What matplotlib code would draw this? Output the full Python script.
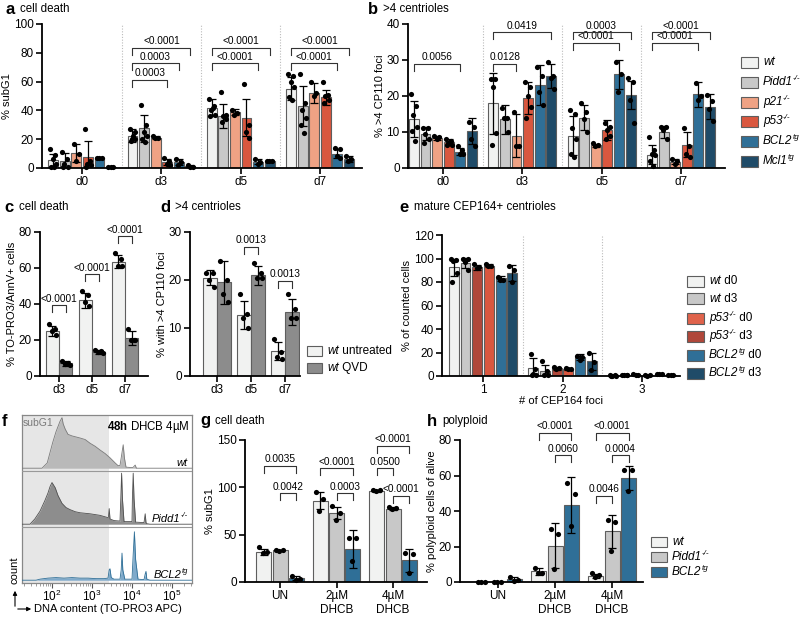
import numpy as np
import matplotlib
matplotlib.use('Agg')
import matplotlib.pyplot as plt
from matplotlib.patches import Rectangle, FancyArrowPatch
from matplotlib.ticker import LogLocator, NullFormatter

plt.rcParams['font.family'] = ['Liberation Sans', 'DejaVu Sans']
plt.rcParams['mathtext.fontset'] = 'custom'
plt.rcParams['mathtext.rm'] = 'Liberation Sans'
plt.rcParams['mathtext.it'] = 'Liberation Sans:italic'
plt.rcParams['mathtext.bf'] = 'Liberation Sans:bold'

# ---------------- DATA ----------------
# Panel a: % subG1 ; series = wt, Pidd1, p21, p53, BCL2, Mcl1 ; groups d0, d3, d5, d7
DAYS = ['d0', 'd3', 'd5', 'd7']
A_MEAN = [[5.8, 22.5, 42, 55], [5, 27.5, 36, 43], [10.5, 21, 39, 52],
          [7.6, 4, 35, 49], [7, 4, 4.5, 10], [0.5, 1.5, 5, 6]]
A_SD = [[4.2, 4.5, 6, 8], [5.4, 9.5, 8.5, 14], [6, 1, 2, 7],
        [11, 2, 13, 5.5], [0.5, 2, 1.5, 3], [0.2, 0.5, 0.6, 2]]
A_PTS = [
    [[13, 9, 6, 3, 1, 1], [27, 25, 20, 20, 19, 22], [48, 43, 40, 37, 36, 42], [65, 64, 60, 56, 49, 47]],
    [[11, 6, 3, 1, 1], [44, 30, 25, 22, 20, 18], [53, 37, 36, 34, 32], [65, 45, 40, 35, 30, 24]],
    [[17, 10, 5], [22, 21, 21], [40, 38, 37], [60, 52, 50]],
    [[27, 5, 3, 2, 1], [7, 5, 3, 2], [58, 30, 25, 21], [60, 51, 50, 47, 45]],
    [[7, 7, 7], [6, 4, 2], [6, 4, 3], [14, 13, 8, 7]],
    [[0.5, 0.5, 0.5], [2, 1, 1], [5, 5, 5], [8, 6, 5]],
]
A_BRACKETS = [(1, 0, 3, 61.2, '0.0003'), (1, 0, 4, 72.7, '0.0003'), (1, 0, 5, 83.6, '<0.0001'),
              (2, 0, 4, 72.7, '<0.0001'), (2, 0, 5, 83.6, '<0.0001'),
              (3, 0, 4, 72.7, '<0.0001'), (3, 0, 5, 83.6, '<0.0001')]

# Panel b: % >4 CP110 foci
B_MEAN = [[13.5, 18, 9, 3.7], [9.5, 13.5, 14, 10], [8.3, 9, 6.3, 1.8],
          [7.3, 19.5, 10.5, 6.5], [4.5, 23, 26, 20.5], [10.3, 25.5, 20.3, 17]]
B_SD = [[5, 8.5, 5.5, 2.6], [1.8, 4, 3.5, 1.7], [0.5, 6, 0.5, 0.7],
        [0.8, 4.5, 2.7, 3.5], [1, 5.5, 4, 3.5], [3.5, 3.3, 4, 3.5]]
B_PTS = [
    [[20.5, 17.3, 14.8, 11.5, 10.3, 7.5], [24.7, 24.7, 22.4, 9.7, 6.5], [16, 15, 11, 8, 4, 3], [8.5, 5, 4, 3.5, 2, 0.5]],
    [[11, 11, 9.5, 8, 7], [16.6, 14, 14, 10], [18, 15.5, 13.5, 10], [11.5, 11.5, 10.5, 8]],
    [[9, 8.5, 8], [15.5, 6, 6], [7, 6.5, 6], [2.5, 2, 1]],
    [[8, 7.5, 7, 6.5, 6.5], [24, 22.5, 20, 17, 14], [12.5, 11.5, 10.5, 9, 8], [11, 6, 4, 3]],
    [[6, 5, 4, 4], [28, 25.6, 21, 17.5], [29.5, 26, 21], [23.5, 20, 19]],
    [[12.8, 11.3, 8, 6], [29.5, 25.5, 25, 22], [25, 24, 19, 12.5], [20.3, 18.5, 16.5, 13]],
]
B_BRACKETS = [(0, 0, 4, 29, '0.0056'), (1, 0, 2, 29, '0.0128'), (1, 0, 5, 37.7, '0.0419'),
              (2, 0, 4, 34.8, '<0.0001'), (2, 0, 5, 37.7, '0.0003'),
              (3, 0, 4, 34.8, '<0.0001'), (3, 0, 5, 37.7, '<0.0001')]
# legend labels as (text, italic, superscript) segments
GENO_LABELS = [[('wt', True, False)],
               [('Pidd1', True, False), ('-/-', True, True)],
               [('p21', True, False), ('-/-', True, True)],
               [('p53', True, False), ('-/-', True, True)],
               [('BCL2', True, False), ('tg', True, True)],
               [('Mcl1', True, False), ('tg', True, True)]]

# Panel c: % TO-PRO3/AnnV+ ; series untreated, QVD
CD_DAYS = ['d3', 'd5', 'd7']
C_MEAN = [[25, 42, 63.5], [7, 13.5, 21]]
C_SD = [[3, 4, 3.5], [1.2, 1.2, 4]]
C_PTS = [[[29, 26, 25, 23], [47.5, 45, 41, 39], [68.5, 65, 61, 61]],
         [[8.5, 7, 6.5, 6], [14.5, 14, 13.5, 13], [26, 20, 20, 20]]]
C_BRACKETS = [(0, 0, 1, 39.4, '<0.0001'), (1, 0, 1, 56.4, '<0.0001'), (2, 0, 1, 77.6, '<0.0001')]

# Panel d: % with >4 CP110 foci
D_MEAN = [[20.5, 12.7, 5.2], [19.5, 21, 13.3]]
D_SD = [[1.5, 3, 1.9], [4.5, 2, 2.7]]
D_PTS = [[[21.5, 21.5, 20, 18.5], [17, 13, 12, 10], [7.7, 5, 4, 3.5]],
         [[24, 20, 17, 15.5], [23.5, 21.5, 20.5, 20.5], [17, 14, 12, 12]]]
D_BRACKETS = [(1, 0, 1, 26.9, '0.0013'), (2, 0, 1, 19.8, '0.0013')]
CD_LABELS = [[('wt', True, False), (' untreated', False, False)],
             [('wt', True, False), (' QVD', False, False)]]

# Panel e: % of counted cells ; series wt d0, wt d3, p53 d3(dark), p53 d0, BCL2 d0, BCL2 d3
FOCI = ['1', '2', '3']
E_MEAN = [[92.5, 7, 0.5], [96, 4, 0.5], [92.5, 6.5, 1], [94, 6, 0.5], [83, 16, 1.5], [87.5, 12.5, 0.5]]
E_SD = [[7.5, 8.5, 0.3], [4.5, 5.5, 0.3], [2, 1, 0.4], [1, 0.5, 0.2], [2, 2.5, 0.3], [7, 7, 0.2]]
E_PTS = [
    [[100, 99, 98, 88, 80], [19, 6, 2, 1, 1], [1, 0.5, 0.3, 0.2, 0.2]],
    [[100, 100, 97, 90], [13, 4, 1, 1], [0.5, 0.5, 0.5, 0.5]],
    [[95, 93, 92], [7.5, 7, 6], [1.5, 1, 0.8]],
    [[95, 94, 94], [6.5, 6, 6], [0.5, 0.5, 0.3]],
    [[84, 82, 82], [17, 16, 14], [1.5, 1.5, 1.5]],
    [[94, 90, 80], [20, 12, 5], [0.5, 0.5, 0.5]],
]
E_LABELS = [[('wt', True, False), (' d0', False, False)],
            [('wt', True, False), (' d3', False, False)],
            [('p53', True, False), ('-/-', True, True), (' d0', False, False)],
            [('p53', True, False), ('-/-', True, True), (' d3', False, False)],
            [('BCL2', True, False), ('tg', True, True), (' d0', False, False)],
            [('BCL2', True, False), ('tg', True, True), (' d3', False, False)]]

# Panel f: DNA content histograms (log10 TO-PRO3, relative count)
F_WT_LOGX = [1.25, 1.75, 1.88, 1.95, 2.02, 2.1, 2.15, 2.2, 2.25, 2.28, 2.33, 2.4, 2.5, 2.6, 2.7, 2.83,
             2.95, 3.08, 3.2, 3.33, 3.45, 3.58, 3.65, 3.7, 3.75, 3.78, 3.81, 3.85, 4.02, 4.08, 4.11, 4.2, 5.5]
F_WT_H = [0, 0, 0.1, 0.3, 0.5, 0.7, 0.8, 0.9, 0.97, 0.85, 0.75, 0.65, 0.62, 0.6, 0.58, 0.55,
          0.48, 0.42, 0.35, 0.28, 0.2, 0.1, 0.05, 0.05, 0.3, 0.45, 0.2, 0.02, 0.01, 0.06, 0.0, 0, 0]
F_PIDD_LOGX = [1.25, 1.45, 1.57, 1.7, 1.82, 1.9, 1.95, 2.0, 2.08, 2.15, 2.25, 2.35, 2.45, 2.58, 2.7,
               2.95, 3.2, 3.38, 3.41, 3.43, 3.45, 3.55, 3.7, 3.72, 3.74, 3.76, 3.8, 4.0, 4.01, 4.03,
               4.05, 4.09, 4.3, 4.33, 4.35, 4.37, 4.45, 5.5]
F_PIDD_H = [0, 0, 0.1, 0.25, 0.45, 0.6, 0.72, 0.8, 0.7, 0.55, 0.4, 0.32, 0.28, 0.24, 0.22,
            0.2, 0.17, 0.13, 0.13, 0.3, 0.1, 0.07, 0.06, 0.5, 0.98, 0.5, 0.05, 0.05, 0.5, 0.98,
            0.5, 0.04, 0.03, 0.2, 0.03, 0.01, 0, 0]
F_BCL2_LOGX = [1.25, 1.6, 1.7, 1.9, 2.1, 2.3, 2.5, 2.7, 2.9, 3.1, 3.3, 3.4, 3.43, 3.45, 3.48, 3.55,
               3.7, 3.73, 3.75, 3.77, 3.82, 4.0, 4.03, 4.06, 4.09, 4.15, 4.3, 4.33, 4.35, 4.37, 4.45, 5.5]
F_BCL2_H = [0, 0, 0.02, 0.04, 0.05, 0.04, 0.05, 0.04, 0.04, 0.03, 0.03, 0.04, 0.2, 0.22, 0.05, 0.02,
            0.02, 0.2, 0.52, 0.2, 0.02, 0.02, 0.5, 0.93, 0.4, 0.02, 0.01, 0.12, 0.17, 0.02, 0, 0]
F_ROW_LABELS = [[('wt', True, False)],
                [('Pidd1', True, False), ('-/-', True, True)],
                [('BCL2', True, False), ('tg', True, True)]]

# Panel g: % subG1 ; series wt, Pidd1, BCL2 ; groups UN, 2µM DHCB, 4µM DHCB
DHCB = ['UN', '2µM\nDHCB', '4µM\nDHCB']
G_MEAN = [[32, 86, 96.5], [33.5, 73, 77.5], [4, 35, 23]]
G_SD = [[3, 9, 1], [0.5, 6.5, 1.5], [2, 20, 12]]
G_PTS = [[[37, 32, 31], [95, 88, 75], [97, 97, 96]],
         [[34, 34, 33], [80, 73, 66], [79, 78, 77]],
         [[6, 3, 2], [47, 46, 22], [31, 30, 10]]]
G_BRACKETS = [(0, 0, 2, 122.6, '0.0035'), (0, 1, 2, 93.8, '0.0042'),
              (1, 0, 2, 120, '<0.0001'), (1, 1, 2, 93.8, '0.0003'),
              (2, 0, 2, 143.7, '<0.0001'), (2, 0, 1, 120, '0.0500'), (2, 1, 2, 91.3, '<0.0001')]

# Panel h: % polyploid cells of alive
H_MEAN = [[0, 6, 3.5], [0, 20.5, 28.5], [1.5, 43.5, 58.8]]
H_SD = [[0, 2, 1], [0, 12.5, 9.5], [1.5, 15.7, 6.7]]
H_PTS = [[[0, 0, 0], [8, 5, 5], [5, 4, 3]],
         [[0, 0, 0], [30, 27, 7.3], [35, 34, 17.6]],
         [[3, 1, 0.8], [56, 49.4, 31.3], [63.1, 63.1, 51.3]]]
H_BRACKETS = [(1, 0, 2, 84, '<0.0001'), (1, 1, 2, 71.5, '0.0060'),
              (2, 0, 2, 84, '<0.0001'), (2, 1, 2, 71.5, '0.0004'), (2, 0, 1, 48.7, '0.0046')]
GH_LABELS = [[('wt', True, False)],
             [('Pidd1', True, False), ('-/-', True, True)],
             [('BCL2', True, False), ('tg', True, True)]]

# ---------------- STYLE ----------------
C_WT, C_PIDD, C_P21, C_P53, C_BCL2, C_MCL1 = '#F1F2F1', '#C8C8C8', '#EFA284', '#D9573F', '#2F6F97', '#1F4B68'
C_P53D3 = '#B0473A'
C_QVD = '#8C8C8C'
EDGE = '#5E5E5E'
JIT = [-0.28, 0.22, -0.05, 0.3, -0.18, 0.1, 0.0]
TICK_FS = 8.5
LAB_FS = 8
BR_FS = 7.3
LEG_FS = 8.5

W, H = 800, 617
fig = plt.figure(figsize=(8, 6.17), dpi=100)
RENDERER = fig.canvas.get_renderer()


def px_axes(l, t, r, b):
    return fig.add_axes([l / W, 1 - b / H, (r - l) / W, (b - t) / H])


def rich(x_px, y_px, segs, fs, ha='left'):
    """Place a run of text segments (text, italic, superscript) starting at pixel x, centred on y."""
    texts = []
    cur = x_px
    for i, (txt, ital, sup) in enumerate(segs):
        size = fs * 0.68 if sup else fs
        yy = y_px - (fs * 0.45 if sup else 0)
        t = fig.text(cur / W, 1 - yy / H, txt, fontsize=size, va='center', ha='left',
                     fontstyle='italic' if ital else 'normal')
        ext = t.get_window_extent(renderer=RENDERER)
        nxt_sup = i + 1 < len(segs) and segs[i + 1][2]
        cur += ext.width + (0.0 if nxt_sup else 0.3)
        texts.append(t)
    if ha == 'right':
        shift = cur - x_px
        for t in texts:
            x0, y0 = t.get_position()
            t.set_position((x0 - shift / W, y0))
    return texts


def style(ax, ylim, yticks, xlim, xt, xlabels):
    ax.set_xlim(*xlim)
    ax.set_ylim(*ylim)
    for s in ['top', 'right']:
        ax.spines[s].set_visible(False)
    for s in ['left', 'bottom']:
        ax.spines[s].set_linewidth(1.3)
    ax.set_yticks(yticks)
    ax.set_xticks(xt)
    ax.set_xticklabels(xlabels)
    ax.tick_params(axis='both', direction='out', length=4, width=1.2, labelsize=TICK_FS, pad=2)
    ax.patch.set_alpha(0)


def draw_bars(ax, means, sds, pts, colors, width, step, cap=2.8):
    ns = len(means)
    for si in range(ns):
        for gi in range(len(means[si])):
            x = gi + (si - (ns - 1) / 2) * step
            m, sd = means[si][gi], sds[si][gi]
            ax.bar(x, m, width, color=colors[si], edgecolor=EDGE, lw=0.8, zorder=2)
            if sd > 0:
                ax.errorbar(x, m, yerr=sd, color='black', capsize=cap, elinewidth=0.9,
                            capthick=0.9, zorder=3)
            p = pts[si][gi]
            xs = [x + JIT[k % len(JIT)] * width for k in range(len(p))]
            ax.scatter(xs, p, s=14, color='black', zorder=4, clip_on=False, linewidths=0)


def draw_brackets(ax, brs, ns, step, ax_h_px, fs=BR_FS, drop_px=7):
    y0, y1 = ax.get_ylim()
    upp = (y1 - y0) / ax_h_px
    for g, s1, s2, y, txt in brs:
        x1 = g + (s1 - (ns - 1) / 2) * step
        x2 = g + (s2 - (ns - 1) / 2) * step
        d = drop_px * upp
        ax.plot([x1, x1, x2, x2], [y - d, y, y, y - d], color='#333333', lw=0.8,
                clip_on=False, zorder=5)
        ax.text((x1 + x2) / 2, y + 1.5 * upp, txt, ha='center', va='bottom', fontsize=fs,
                clip_on=False)


def separators(ax, n, top):
    for k in range(n - 1):
        ax.plot([k + 0.5, k + 0.5], [0, top], ls=(0, (1, 1.5)), color='#BBBBBB', lw=0.8, zorder=0)


def legend_px(items, x, ys, fs=LEG_FS, pw=17, ph=11):
    for (segs, col), y in zip(items, ys):
        fig.patches.append(Rectangle((x / W, 1 - (y + ph / 2) / H), pw / W, ph / H,
                                     transform=fig.transFigure, facecolor=col,
                                     edgecolor=EDGE, lw=0.8))
        rich(x + pw + 5, y, segs, fs)


def panel_label(x, y, letter, title):
    fig.text(x / W, 1 - y / H, letter, fontsize=12, fontweight='bold', va='center', ha='left')
    fig.text((x + 15) / W, 1 - y / H, title, fontsize=8.3, va='center', ha='left')


SIX = [C_WT, C_PIDD, C_P21, C_P53, C_BCL2, C_MCL1]

# ---------------- Panel a ----------------
axa = px_axes(42, 24, 362, 168)
style(axa, (0, 100), [0, 20, 40, 60, 80, 100], (-0.506, 3.53), range(4), DAYS)
separators(axa, 4, 100)
draw_bars(axa, A_MEAN, A_SD, A_PTS, SIX, 0.125, 0.146, cap=2.6)
draw_brackets(axa, A_BRACKETS, 6, 0.146, 144)
axa.set_ylabel('% subG1', fontsize=LAB_FS, labelpad=1)
panel_label(5, 9, 'a', 'cell death')

# ---------------- Panel b ----------------
axb = px_axes(408, 24, 725, 168)
style(axb, (0, 40), [0, 10, 20, 30, 40], (-0.44, 3.555), range(4), DAYS)
separators(axb, 4, 40)
draw_bars(axb, B_MEAN, B_SD, B_PTS, SIX, 0.125, 0.146, cap=2.6)
draw_brackets(axb, B_BRACKETS, 6, 0.146, 144)
axb.set_ylabel('% >4 CP110 foci', fontsize=LAB_FS, labelpad=1)
panel_label(368, 9, 'b', '>4 centrioles')
legend_px(list(zip(GENO_LABELS, SIX)), 741, [62, 82, 102, 121, 141, 161])

# ---------------- Panel c ----------------
axc = px_axes(40, 232, 148, 376)
style(axc, (0, 80), [0, 20, 40, 60, 80], (-0.576, 2.7), range(3), CD_DAYS)
draw_bars(axc, C_MEAN, C_SD, C_PTS, [C_WT, C_QVD], 0.4, 0.4, cap=2.6)
draw_brackets(axc, C_BRACKETS, 2, 0.4, 144)
axc.set_ylabel('% TO-PRO3/AnnV+ cells', fontsize=LAB_FS, labelpad=1)
panel_label(4, 207, 'c', 'cell death')

# ---------------- Panel d ----------------
axd = px_axes(190, 232, 300, 376)
style(axd, (0, 30), [0, 10, 20, 30], (-0.79, 2.44), range(3), CD_DAYS)
draw_bars(axd, D_MEAN, D_SD, D_PTS, [C_WT, C_QVD], 0.41, 0.41, cap=2.6)
draw_brackets(axd, D_BRACKETS, 2, 0.41, 144)
axd.set_ylabel('% with >4 CP110 foci', fontsize=LAB_FS, labelpad=1)
panel_label(160, 207, 'd', '>4 centrioles')
legend_px(list(zip(CD_LABELS, [C_WT, C_QVD])), 307, [351, 368], pw=15, ph=10)

# ---------------- Panel e ----------------
axe = px_axes(442, 235, 680, 376)
style(axe, (0, 120), [0, 20, 40, 60, 80, 100, 120], (-0.516, 2.478), range(3), FOCI)
separators(axe, 3, 120)
draw_bars(axe, E_MEAN, E_SD, E_PTS, [C_WT, C_PIDD, C_P53D3, C_P53, C_BCL2, C_MCL1], 0.125, 0.147,
          cap=2.6)
axe.set_ylabel('% of counted cells', fontsize=LAB_FS, labelpad=1)
axe.set_xlabel('# of CEP164 foci', fontsize=LAB_FS, labelpad=0)
panel_label(399, 207, 'e', 'mature CEP164+ centrioles')
legend_px(list(zip(E_LABELS, [C_WT, C_PIDD, '#E0634B', C_P53D3, C_BCL2, C_MCL1])), 687,
          [281, 299, 318, 336, 355, 373])

# ---------------- Panel f ----------------
axf = px_axes(22, 415, 192, 583)
axf.set_xscale('log')
axf.set_xlim(10 ** 1.25, 10 ** 5.5)
axf.set_ylim(0, 3)
axf.axvspan(10 ** 1.25, 2600, color='#E6E6E6', zorder=0, lw=0)
rows = [(F_WT_LOGX, F_WT_H, '#B9B9B9', '#7A7A7A', 2),
        (F_PIDD_LOGX, F_PIDD_H, '#8D8D8D', '#505050', 1),
        (F_BCL2_LOGX, F_BCL2_H, '#7FAACB', '#2F6F97', 0)]
for lx, hh, fc, ec, base in rows:
    xx = 10 ** np.array(lx)
    yy = base + 0.05 + 0.93 * np.array(hh)
    axf.fill_between(xx, base + 0.05, yy, color=fc, lw=0, zorder=2)
    axf.plot(xx, yy, color=ec, lw=0.6, zorder=3)
for yb in [1, 2]:
    axf.axhline(yb, color='#999999', lw=0.8, zorder=4)
for s in axf.spines.values():
    s.set_color('#888888')
    s.set_linewidth(0.9)
axf.set_yticks([])
axf.xaxis.set_minor_locator(LogLocator(base=10, subs=np.arange(2, 10), numticks=10))
axf.xaxis.set_minor_formatter(NullFormatter())
axf.set_xticks([1e2, 1e3, 1e4, 1e5])
axf.tick_params(axis='x', which='major', length=3.5, width=0.8, labelsize=TICK_FS, pad=1,
                color='#555555')
axf.tick_params(axis='x', which='minor', length=2, width=0.5, color='#777777')
axf.text(10 ** 1.28, 2.95, 'subG1', fontsize=7.5, color='#7A7A7A', va='top', ha='left')
axf.text(10 ** 5.45, 2.93, r'$\bf{48h}$ DHCB 4µM', fontsize=8.3, va='top', ha='right')
for segs, ypx in zip(F_ROW_LABELS, [463, 519, 575]):
    rich(188, ypx, segs, 8, ha='right')
fig.text(2 / W, 1 - 421 / H, 'f', fontsize=12, fontweight='bold', va='center', ha='left')
fig.patches.append(FancyArrowPatch(
    (15 / W, 1 - 609 / H), (15 / W, 1 - 588 / H), transform=fig.transFigure,
    arrowstyle='-|>', mutation_scale=6, lw=0.8, color='black'))
fig.patches.append(FancyArrowPatch(
    (15 / W, 1 - 609 / H), (34 / W, 1 - 609 / H), transform=fig.transFigure,
    arrowstyle='-|>', mutation_scale=6, lw=0.8, color='black'))
fig.text(15 / W, 1 - 570 / H, 'count', rotation=90, fontsize=8, ha='center', va='center')
fig.text(34 / W, 1 - 609 / H, 'DNA content (TO-PRO3 APC)', fontsize=8, ha='left', va='center')

# ---------------- Panel g ----------------
axg = px_axes(245, 440, 427, 582)
style(axg, (0, 150), [0, 50, 100, 150], (-0.62, 2.6), range(3), DHCB)
draw_bars(axg, G_MEAN, G_SD, G_PTS, [C_WT, C_PIDD, C_BCL2], 0.265, 0.29, cap=3)
draw_brackets(axg, G_BRACKETS, 3, 0.29, 142)
axg.set_ylabel('% subG1', fontsize=LAB_FS, labelpad=1)
panel_label(200, 421, 'g', 'cell death')

# ---------------- Panel h ----------------
axh = px_axes(460, 440, 643, 582)
style(axh, (0, 80), [0, 20, 40, 60, 80], (-0.667, 2.54), range(3), DHCB)
draw_bars(axh, H_MEAN, H_SD, H_PTS, [C_WT, C_PIDD, C_BCL2], 0.26, 0.286, cap=3)
draw_brackets(axh, H_BRACKETS, 3, 0.286, 142)
axh.set_ylabel('% polyploid cells of alive', fontsize=LAB_FS, labelpad=1)
panel_label(427, 421, 'h', 'polyploid')
legend_px(list(zip(GH_LABELS, [C_WT, C_PIDD, C_BCL2])), 651, [542, 557, 572], pw=16, ph=10)

fig.savefig('out.png', dpi=100)
